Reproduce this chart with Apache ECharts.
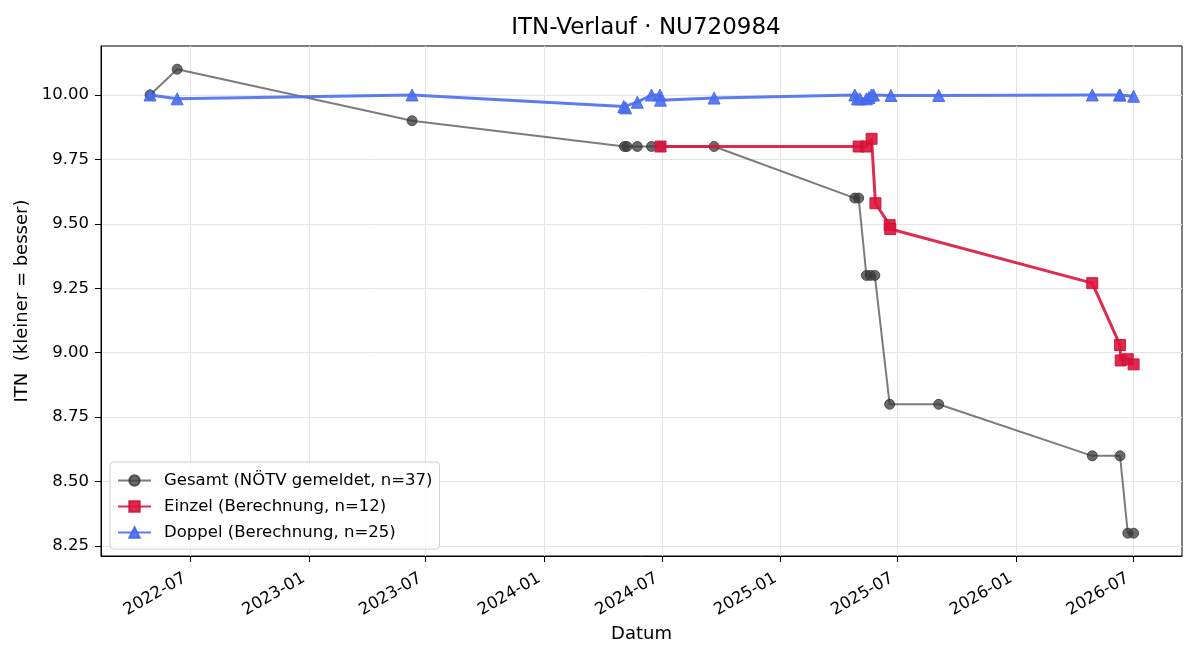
<!DOCTYPE html>
<html>
<head>
<meta charset="utf-8">
<script src="https://cdn.jsdelivr.net/npm/echarts@6/dist/echarts.min.js"></script>
<style>
    html, body {margin: 0; padding: 0; background: #fff;}
    #chart {width: 1200px; height: 660px;}
</style>
</head>
<body>
<div id="chart"></div>
<script>
const FONT = 'DejaVu Sans'

// Gesamt (NÖTV gemeldet)
const gesamt_dates = [
    '2022-04-30', '2022-06-11', '2023-06-10', '2024-05-04', '2024-05-08', '2024-05-24',
    '2024-06-15', '2024-06-29', '2024-09-20', '2025-04-26', '2025-05-02', '2025-05-14',
    '2025-05-20', '2025-05-27', '2025-06-19', '2025-09-03', '2026-04-29', '2026-06-11',
    '2026-06-23', '2026-07-02',
]
const gesamt_values = [
    10.0, 10.1, 9.9, 9.8, 9.8, 9.8,
    9.8, 9.8, 9.8, 9.6, 9.6, 9.3,
    9.3, 9.3, 8.8, 8.8, 8.6, 8.6,
    8.3, 8.3,
]

// Einzel (Berechnung)
const einzel_dates = [
    '2024-06-29', '2025-05-02', '2025-05-14', '2025-05-22', '2025-05-28', '2025-06-19',
    '2025-06-20', '2026-04-29', '2026-06-11', '2026-06-12', '2026-06-23', '2026-07-02',
]
const einzel_values = [
    9.80, 9.80, 9.80, 9.83, 9.58, 9.495,
    9.48, 9.27, 9.03, 8.97, 8.975, 8.955,
]

// Doppel (Berechnung)
const doppel_dates = [
    '2022-04-30', '2022-06-11', '2023-06-10', '2024-05-03', '2024-05-06', '2024-05-24',
    '2024-06-15', '2024-06-28', '2024-06-29', '2024-09-20', '2025-04-26', '2025-04-30',
    '2025-05-04', '2025-05-14', '2025-05-18', '2025-05-22', '2025-05-25', '2025-06-21',
    '2025-09-03', '2026-04-29', '2026-06-10', '2026-06-11', '2026-07-02',
]
const doppel_values = [
    10.00, 9.985, 10.00, 9.955, 9.95, 9.972,
    10.00, 10.00, 9.98, 9.988, 10.00, 9.985,
    9.985, 9.985, 9.99, 10.00, 10.00, 9.998,
    9.998, 10.00, 10.00, 10.00, 9.995,
]

const x_ticks = [
    '2022-07-01', '2023-01-01', '2023-07-01', '2024-01-01', '2024-07-01',
    '2025-01-01', '2025-07-01', '2026-01-01', '2026-07-01',
]
const y_ticks = [8.25, 8.5, 8.75, 9.0, 9.25, 9.5, 9.75, 10.0]

const ts = d => Date.parse(d)
const pairs = (dates, values) => dates.map((d, i) => [ts(d), values[i]])

const fmt_month = v => {
    const d = new Date(v)
    return d.getUTCFullYear() + '-' + String(d.getUTCMonth() + 1).padStart(2, '0')
}

const chart = echarts.init(document.getElementById('chart'))

chart.setOption({
    animation: false,
    backgroundColor: '#fff',
    textStyle: {fontFamily: FONT},
    title: {
        text: 'ITN-Verlauf · NU720984',
        left: 641,
        textAlign: 'center',
        top: 12,
        textStyle: {fontFamily: FONT, fontSize: 23, fontWeight: 'normal', color: '#000'},
    },
    grid: {
        left: 101,
        right: 18,
        top: 46,
        bottom: 104,
        show: true,
        borderColor: '#000',
        borderWidth: 1,
        containLabel: false,
    },
    legend: {
        orient: 'vertical',
        left: 110,
        top: 462,
        itemWidth: 33,
        itemHeight: 13,
        itemGap: 9,
        padding: [10, 7, 8, 7],
        backgroundColor: 'rgba(255,255,255,0.8)',
        borderColor: '#d0d0d0',
        borderWidth: 1,
        borderRadius: 4,
        textStyle: {fontFamily: FONT, fontSize: 16.5, color: '#000', padding: [0, 0, 0, 8]},
    },
    xAxis: {
        type: 'value',
        min: ts('2022-02-13'),
        max: ts('2026-09-15'),
        name: 'Datum',
        nameLocation: 'middle',
        nameGap: 68,
        nameTextStyle: {fontFamily: FONT, fontSize: 18, color: '#000'},
        axisLine: {show: true, onZero: false, lineStyle: {color: '#000', width: 1}},
        axisTick: {show: true, length: 6, lineStyle: {color: '#000'}, customValues: x_ticks.map(ts)},
        axisLabel: {
            customValues: x_ticks.map(ts),
            formatter: fmt_month,
            rotate: 30,
            margin: 18,
            padding: [0, 6, 0, 0],
            fontFamily: FONT,
            fontSize: 16.5,
            color: '#000',
        },
        splitLine: {show: true, lineStyle: {color: '#e4e4e4', width: 1}},
    },
    yAxis: {
        type: 'value',
        min: 8.2115,
        max: 10.19,
        name: 'ITN  (kleiner = besser)',
        nameLocation: 'middle',
        nameGap: 67,
        nameTextStyle: {fontFamily: FONT, fontSize: 18, color: '#000'},
        axisLine: {show: true, onZero: false, lineStyle: {color: '#000', width: 1}},
        axisTick: {show: true, length: 6, lineStyle: {color: '#000'}, customValues: y_ticks},
        axisLabel: {
            customValues: y_ticks,
            formatter: v => v.toFixed(2),
            margin: 12,
            fontFamily: FONT,
            fontSize: 16.5,
            color: '#000',
        },
        splitLine: {show: true, lineStyle: {color: '#e4e4e4', width: 1}},
    },
    series: [
        {
            name: 'Gesamt (NÖTV gemeldet, n=37)',
            type: 'line',
            data: pairs(gesamt_dates, gesamt_values),
            symbol: 'circle',
            symbolSize: 10,
            lineStyle: {color: '#444', width: 2, opacity: 0.7},
            itemStyle: {color: '#3a3a3a', opacity: 0.75, borderColor: '#333', borderWidth: 1},
            z: 2,
        },
        {
            name: 'Einzel (Berechnung, n=12)',
            type: 'line',
            data: pairs(einzel_dates, einzel_values),
            symbol: 'rect',
            symbolSize: 11,
            lineStyle: {color: '#dc143c', width: 3, opacity: 0.9},
            itemStyle: {color: '#dc143c', opacity: 0.9, borderColor: '#c81236', borderWidth: 1},
            z: 3,
        },
        {
            name: 'Doppel (Berechnung, n=25)',
            type: 'line',
            data: pairs(doppel_dates, doppel_values),
            symbol: 'triangle',
            symbolSize: 12,
            lineStyle: {color: '#4a6ef0', width: 3, opacity: 0.9},
            itemStyle: {color: '#4a6ef0', opacity: 0.9, borderColor: '#4466e8', borderWidth: 1},
            z: 4,
        },
    ],
})
</script>
</body>
</html>
